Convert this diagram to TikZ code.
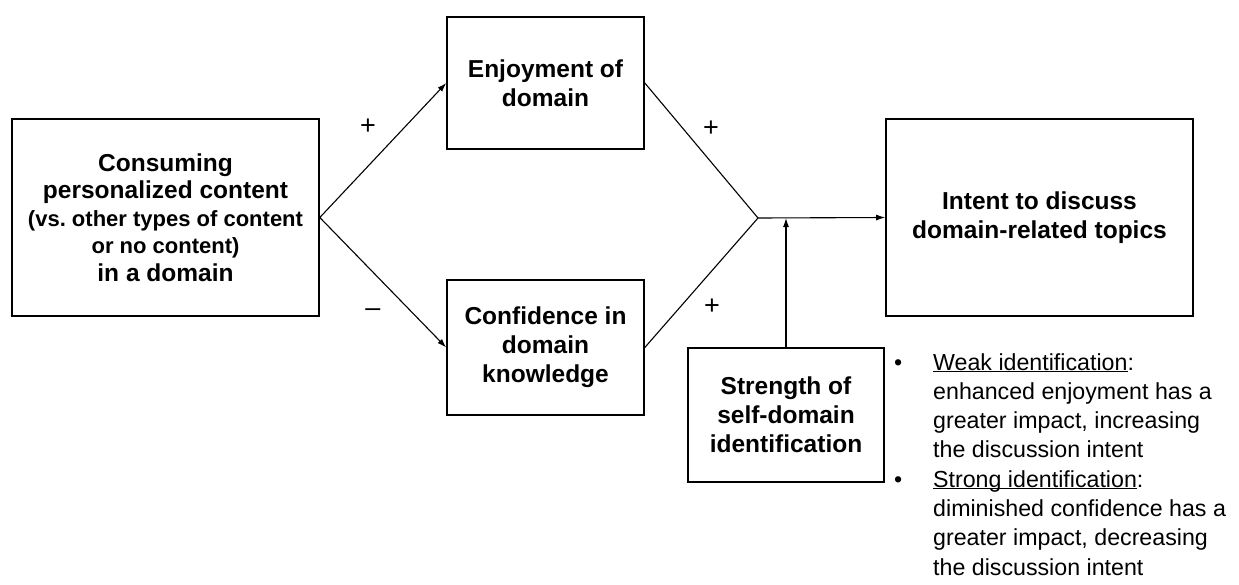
\documentclass[tikz,border=0pt]{standalone}
\usepackage{fontspec}
\setmainfont{Liberation Sans}
\usetikzlibrary{positioning,calc,arrows.meta}
\frenchspacing

\begin{document}
\begin{tikzpicture}[x=1pt, y=-1pt,
                box/.style={draw, line width=1.6pt, align=center, inner sep=0pt, font=\bfseries\fontsize{24.5}{29}\selectfont},
                arrow/.style={-{Latex[length=9pt,width=6pt]}, line width=1.1pt},
                edge/.style={line width=1.1pt},
                sign/.style={inner sep=0pt, font=\fontsize{27}{27}\selectfont},
                note/.style={inner sep=0pt, align=left, font=\fontsize{23.2}{29.3}\selectfont}
            ]
                \useasboundingbox (0,0) rectangle (1239,584);

                % --- BOXES ---
                \node[box, minimum width=307pt, minimum height=197pt, font=\bfseries\fontsize{24.5}{27.5}\selectfont] (consume) at (165.5,217.5)
                    {Consuming\\ personalized content\\ {\fontsize{22}{27.5}\selectfont (vs. other types of content}\\ {\fontsize{22}{27.5}\selectfont or no content)}\\ in a domain};
                \node[box, minimum width=197pt, minimum height=132pt] (enjoy) at (545.5,83) {Enjoyment of\\ domain};
                \node[box, minimum width=197pt, minimum height=135pt] (conf) at (545.5,347.5) {Confidence in\\ domain\\ knowledge};
                \node[box, minimum width=196pt, minimum height=134pt] (strength) at (786,415) {Strength of\\ self-domain\\ identification};
                \node[box, minimum width=307pt, minimum height=197pt] (intent) at (1039.5,217.5) {Intent to discuss\\ domain-related topics};

                % --- CONNECTORS ---
                \coordinate (join) at (758,218);
                \draw[arrow] (consume.east) -- (enjoy.west);
                \draw[arrow] (consume.east) -- (conf.west);
                \draw[edge] (enjoy.east) -- (join);
                \draw[edge] (conf.east) -- (join);
                \draw[arrow] (join) -- (intent.west);
                \draw[arrow] (strength.north) -- (strength.north |- join);

                % --- SIGNS ---
                \node[sign] (plusA) at (368,127) {+};
                \node[sign] (minusA) at (373,313) {–};
                \node[sign] (plusB) at (711,129) {+};
                \node[sign] (plusC) at (712,307) {+};

                % --- NOTES ---
                \node[note, anchor=north west] (notes) at (894,353)
                    {\makebox[39pt][l]{•}\underline{Weak identification}:\\
                     \hspace*{39pt}enhanced enjoyment has a\\
                     \hspace*{39pt}greater impact, increasing\\
                     \hspace*{39pt}the discussion intent\\
                     \makebox[39pt][l]{•}\underline{\vphantom{W}\smash{Strong identification}}:\\
                     \hspace*{39pt}diminished confidence has a\\
                     \hspace*{39pt}greater impact, decreasing\\
                     \hspace*{39pt}the discussion intent};

            \end{tikzpicture}
\end{document}
